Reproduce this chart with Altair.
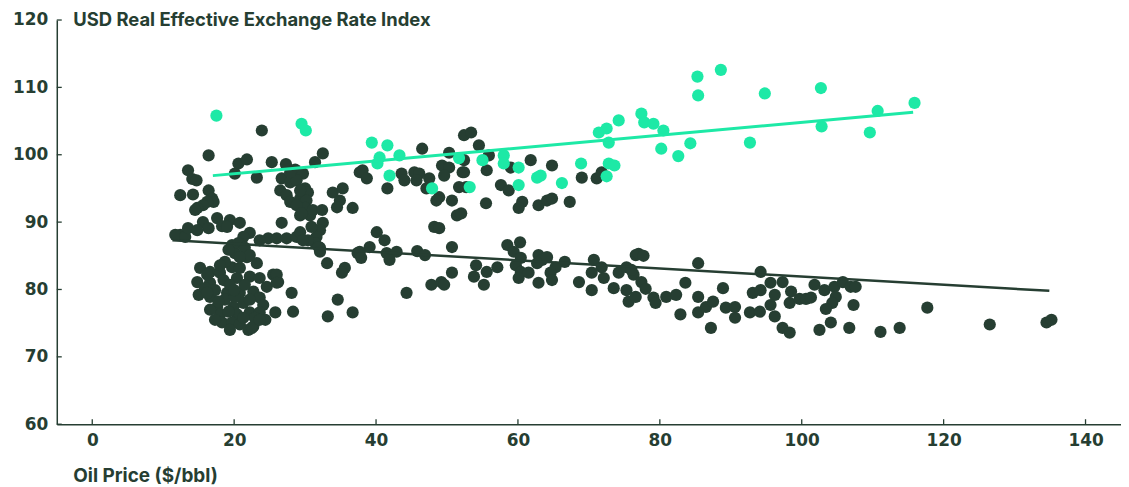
import altair as alt
import pandas as pd

DARK = "#263e32"
TEAL = "#1de9a6"
FONT = "Inter"
LABEL_FONT = "DejaVu Sans"

# ---- values ----
x_ticks = [0, 20, 40, 60, 80, 100, 120, 140]
y_ticks = [60, 70, 80, 90, 100, 110, 120]

dark_oil = [
    23.9, 16.4, 13.5, 14.1, 14.7, 20.6, 21.8, 20.1, 23.2, 25.3, 27.3, 28.6, 29.7, 26.7, 27.9, 28.8, 30.0, 30.4, 26.5, 27.4,
    27.9, 29.3, 29.7, 30.2, 30.0, 29.3, 30.7, 31.1, 32.4, 32.5, 32.1, 31.6, 31.4, 32.1, 32.5, 31.4, 33.9, 35.3, 34.9, 34.5,
    36.7, 37.7, 12.4, 14.2, 16.4, 16.9, 17.1, 16.2, 15.6, 14.8, 14.5, 27.9, 29.3, 28.8, 29.5,
    26.7, 12.4, 11.7, 13.1, 13.5, 15.6, 17.6, 19.4, 20.8, 16.4, 14.8, 18.3, 19.0, 22.2, 21.3, 24.8, 26.0, 27.4, 28.8, 29.3,
    30.4, 23.6, 19.7, 30.9, 29.7, 31.9,
    20.1, 21.8, 23.2, 19.7, 15.2, 16.6, 18.0, 14.8, 16.6, 18.5, 20.4, 22.2, 23.6, 25.5, 26.2, 24.6, 15.0, 16.6, 19.0, 20.8,
    22.7, 23.6, 24.1, 28.1, 17.6, 19.9, 21.3, 18.0, 20.4, 22.2, 23.6, 18.3, 19.7, 20.8, 22.7, 25.8, 28.3,
    18.7, 20.8, 17.3, 19.4, 21.5, 18.7, 16.6, 22.2, 20.1, 15.9, 19.2, 20.6, 21.5, 17.8, 19.2, 22.9, 24.4, 21.3, 17.3, 19.4,
    22.0, 18.0, 20.0, 26.0, 26.0, 22.2, 20.8, 16.2, 16.2, 22.5, 23.6,
    33.2, 34.6, 36.7, 33.1, 35.6, 35.2, 37.4, 32.1,
    38.1, 38.7, 46.5, 50.3, 52.4, 53.4, 43.6, 44.0, 45.4, 46.1, 45.7, 47.5, 47.1, 49.3, 50.3, 49.6, 52.2, 51.7, 48.9, 48.5,
    50.7, 51.4, 41.6, 40.1, 41.2, 39.1, 37.7, 37.9, 41.5, 42.9, 41.9, 45.8, 46.9, 48.2, 48.9, 50.7, 50.7, 47.8, 49.2, 49.6,
    44.3,
    54.5, 55.9, 55.6, 52.4, 52.4, 52.7, 52.0, 59.0, 61.8, 64.8, 57.6, 58.7, 55.5, 60.6, 60.1, 62.9, 64.1, 64.8, 67.3, 69.0,
    71.1, 71.8,
    58.5, 60.3, 59.4, 60.4, 59.7, 60.4, 60.1, 61.5, 62.9, 63.4, 62.7, 64.1, 66.6, 65.3, 64.6, 64.8, 62.9, 54.1, 55.6, 53.8,
    55.2, 57.1, 68.6, 70.7, 71.8, 70.4, 72.1, 70.4, 73.5, 74.2, 75.3, 76.3, 76.6, 75.3, 75.6, 76.6,
    77.0, 77.7, 85.4, 94.2, 76.0, 77.4, 78.0, 79.1, 79.4, 80.9, 82.3, 83.6, 82.9, 85.4, 85.4, 86.5, 87.5, 87.2, 88.9, 89.3,
    90.6, 90.6, 92.7, 94.1, 93.1, 94.2, 95.6, 97.3, 96.2, 95.6, 96.2, 98.5, 98.3, 99.7, 97.3, 98.3, 100.6,
    101.8, 103.2, 104.6, 105.8, 106.9, 107.6, 101.3, 104.8, 104.3, 103.4, 107.3, 102.5, 104.1, 106.7, 111.1, 113.8, 117.7,
    126.5, 134.5, 135.2,
]
dark_reer = [
    103.6, 99.9, 97.7, 96.4, 96.2, 98.7, 99.3, 97.2, 96.6, 98.9, 98.6, 97.8, 97.2, 96.5, 95.9, 96.2, 95.0, 94.4, 94.7, 94.0,
    93.0, 93.5, 92.8, 93.2, 92.1, 91.0, 91.0, 91.8, 91.8, 89.9, 88.8, 87.8, 86.9, 86.2, 100.2, 98.9, 94.4, 95.0, 93.2, 92.2,
    92.1, 97.4, 94.0, 94.1, 94.7, 93.5, 93.0, 93.0, 92.5, 92.1, 91.8, 97.4, 94.7, 92.5, 91.3,
    89.9, 88.1, 88.1, 87.8, 89.1, 90.0, 90.6, 90.3, 89.9, 89.1, 88.8, 89.4, 89.3, 88.4, 87.8, 87.6, 87.6, 87.6, 87.8, 88.5,
    87.3, 87.3, 86.6, 89.3, 87.3, 86.3,
    85.4, 84.8, 83.9, 83.3, 83.2, 82.6, 82.5, 81.1, 81.0, 81.4, 81.7, 81.9, 81.7, 82.2, 81.1, 80.4, 79.2, 78.9, 79.5, 79.5,
    79.7, 78.8, 77.7, 79.5, 77.4, 77.4, 78.0, 76.3, 76.3, 76.6, 76.6, 75.1, 75.1, 74.8, 74.5, 76.6, 76.7,
    84.1, 83.2, 79.9, 80.7, 80.7, 78.5, 77.0, 78.5, 78.9, 80.2, 85.9, 86.9, 86.2, 78.2, 76.7, 75.8, 75.5, 75.8, 75.5, 74.0,
    74.0, 83.6, 79.9, 82.2, 81.0, 85.1, 84.8, 82.2, 79.5, 74.3, 75.5,
    76.0, 78.5, 76.6, 83.9, 83.2, 82.5, 85.4, 85.6,
    97.7, 96.5, 100.9, 100.3, 102.9, 103.3, 97.2, 96.2, 97.4, 97.2, 96.2, 96.5, 95.0, 98.4, 98.1, 96.9, 97.4, 95.2, 93.7, 93.2,
    93.2, 91.0, 95.0, 88.5, 87.3, 86.3, 85.6, 84.7, 85.4, 85.6, 84.4, 85.7, 85.1, 89.3, 89.1, 86.3, 82.5, 80.7, 81.1, 80.7,
    79.5,
    101.4, 99.9, 97.7, 99.2, 97.4, 95.2, 91.3, 98.1, 99.2, 98.4, 95.5, 94.7, 92.8, 93.0, 92.1, 92.5, 93.2, 93.5, 93.0, 96.6,
    96.5, 97.4,
    86.6, 87.0, 85.6, 84.7, 83.6, 82.6, 81.7, 82.5, 85.1, 84.4, 83.9, 84.8, 84.1, 83.3, 82.5, 81.4, 81.0, 83.6, 82.6, 81.9,
    80.7, 83.3, 81.1, 84.4, 83.3, 82.5, 81.7, 79.9, 80.2, 82.5, 83.3, 82.2, 85.1, 79.9, 78.2, 78.9,
    85.3, 85.0, 83.9, 82.6, 82.9, 81.1, 80.1, 78.8, 78.0, 78.9, 79.2, 81.0, 76.3, 78.9, 76.6, 77.4, 78.2, 74.3, 80.2, 77.3,
    77.4, 75.8, 76.6, 76.7, 79.5, 79.9, 81.0, 81.1, 79.2, 77.7, 76.0, 79.7, 78.0, 78.6, 74.3, 73.6, 78.6,
    80.7, 79.9, 80.4, 81.1, 80.4, 80.4, 78.8, 78.9, 78.0, 77.1, 77.7, 74.0, 75.1, 74.3, 73.7, 74.3, 77.3,
    74.8, 75.1, 75.5,
]

teal_oil = [
    17.5, 29.5, 30.1, 39.4, 41.6, 43.3, 40.5, 40.2, 41.9, 47.9, 53.2, 51.7, 55.0, 58.0, 58.0, 60.1, 60.1, 62.7, 63.2, 66.2,
    68.9, 71.4, 72.5, 74.2, 72.8, 72.8, 73.6, 77.4, 77.8, 79.1, 80.5, 80.2, 82.6, 84.3, 85.3, 85.4, 88.6, 94.8, 92.7, 102.7,
    102.8, 110.7, 109.6, 115.9, 72.5,
]
teal_reer = [
    105.8, 104.6, 103.6, 101.8, 101.4, 99.9, 99.6, 98.7, 96.9, 95.0, 95.2, 99.5, 99.2, 99.9, 98.7, 98.1, 95.5, 96.6, 96.9, 95.8,
    98.7, 103.3, 103.9, 105.1, 101.8, 98.7, 98.4, 106.1, 104.8, 104.6, 103.6, 100.9, 99.8, 101.7, 111.6, 108.8, 112.6, 109.1, 101.8, 109.9,
    104.2, 106.5, 103.3, 107.7, 96.8,
]

trend_dark_oil = [11.3, 134.9]
trend_dark_reer = [87.3, 79.8]
trend_teal_oil = [17.0, 115.7]
trend_teal_reer = [96.9, 106.3]

assert len(dark_oil) == len(dark_reer)
assert len(teal_oil) == len(teal_reer)

df_dark = pd.DataFrame({"oil": dark_oil, "reer": dark_reer})
df_teal = pd.DataFrame({"oil": teal_oil, "reer": teal_reer})
df_tdark = pd.DataFrame({"oil": trend_dark_oil, "reer": trend_dark_reer})
df_tteal = pd.DataFrame({"oil": trend_teal_oil, "reer": trend_teal_reer})
df_xt = pd.DataFrame({"oil": x_ticks})
df_yt = pd.DataFrame({"reer": y_ticks})

W, H = 1069, 406
xs = alt.Scale(domain=[-5, 145], nice=False, zero=False)
ys = alt.Scale(domain=[60, 120], nice=False, zero=False)

x_axis = alt.Axis(
    values=x_ticks, title="Oil Price ($/bbl)", titleX=16, titleY=52,
    titleAlign="left", titleBaseline="middle", titleFontSize=19, labelPadding=8,
    ticks=False, tickSize=0, labelFlush=False, grid=False,
)
y_axis = alt.Axis(
    values=y_ticks, title="USD Real Effective Exchange Rate Index", titleAngle=0,
    titleX=16, titleY=0, titleAlign="left", titleBaseline="middle",
    labelPadding=9, ticks=False, tickSize=0, labelFlush=False, grid=False,
)

pts_dark = alt.Chart(df_dark).mark_circle(size=150, opacity=1, color=DARK).encode(
    x=alt.X("oil:Q", scale=xs, axis=x_axis),
    y=alt.Y("reer:Q", scale=ys, axis=y_axis),
)
pts_teal = alt.Chart(df_teal).mark_circle(size=150, opacity=1, color=TEAL).encode(
    x=alt.X("oil:Q", scale=xs),
    y=alt.Y("reer:Q", scale=ys),
)
line_dark = alt.Chart(df_tdark).mark_line(color=DARK, strokeWidth=2.5).encode(
    x=alt.X("oil:Q", scale=xs),
    y=alt.Y("reer:Q", scale=ys),
)
line_teal = alt.Chart(df_tteal).mark_line(color=TEAL, strokeWidth=3).encode(
    x=alt.X("oil:Q", scale=xs),
    y=alt.Y("reer:Q", scale=ys),
)
yticks = alt.Chart(df_yt).mark_rule(color=DARK, strokeWidth=1.3).encode(
    y=alt.Y("reer:Q", scale=ys),
    x=alt.value(0),
    x2=alt.value(5),
)
xticks = alt.Chart(df_xt).mark_rule(color=DARK, strokeWidth=1.3).encode(
    x=alt.X("oil:Q", scale=xs),
    y=alt.value(H),
    y2=alt.value(H - 5),
)

chart = alt.layer(pts_dark, pts_teal, line_dark, line_teal, yticks, xticks).properties(
    width=W,
    height=H,
    padding={"left": 49, "top": 11, "right": 0, "bottom": 62},
    autosize=alt.AutoSizeParams(type="none"),
).configure_view(stroke=None).configure_axis(
    domainColor=DARK,
    domainWidth=1.5,
    labelColor=DARK,
    labelFont=LABEL_FONT,
    labelFontSize=17,
    labelFontWeight="bold",
    titleColor=DARK,
    titleFont=FONT,
    titleFontSize=18.5,
    titleFontWeight="bold",
)

chart.save("out.html", embed_options={"renderer": "svg", "actions": False})
